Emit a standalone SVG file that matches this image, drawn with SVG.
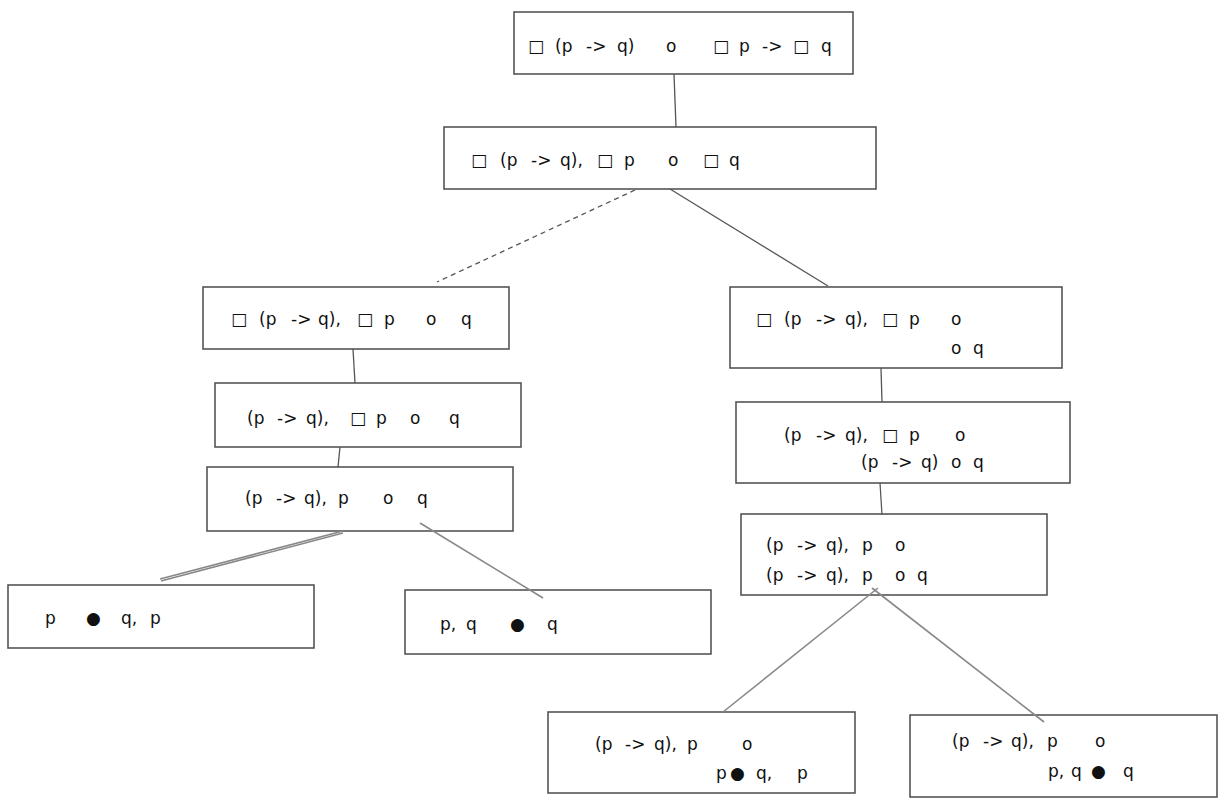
<svg xmlns="http://www.w3.org/2000/svg" width="1229" height="810" viewBox="0 0 1229 810">
<style>
.box{fill:#fff;stroke:#555;stroke-width:1.6}
.t{font-family:"DejaVu Sans",sans-serif;font-size:17px;fill:#111}
.c{stroke:#555;stroke-width:1.3;fill:none}
.g{stroke:#888;stroke-width:1.6;fill:none}
</style>
<rect width="1229" height="810" fill="#fff"/>
<g id="n1">
<rect class="box" x="514" y="12" width="339" height="62"/>
<text class="t" y="52"><tspan x="528">□</tspan><tspan x="555">(p</tspan><tspan x="586">-&gt;</tspan><tspan x="617">q)</tspan><tspan x="666">o</tspan><tspan x="713">□</tspan><tspan x="739">p</tspan><tspan x="762">-&gt;</tspan><tspan x="793">□</tspan><tspan x="821">q</tspan></text>
</g>
<g id="n2">
<rect class="box" x="444" y="127" width="432" height="62"/>
<text class="t" y="166"><tspan x="471">□</tspan><tspan x="500">(p</tspan><tspan x="531">-&gt;</tspan><tspan x="560">q),</tspan><tspan x="597">□</tspan><tspan x="624">p</tspan><tspan x="668">o</tspan><tspan x="703">□</tspan><tspan x="729">q</tspan></text>
</g>
<g id="n3">
<rect class="box" x="203" y="287" width="306" height="62"/>
<text class="t" y="325"><tspan x="231">□</tspan><tspan x="259">(p</tspan><tspan x="291">-&gt;</tspan><tspan x="318">q),</tspan><tspan x="357">□</tspan><tspan x="384">p</tspan><tspan x="426">o</tspan><tspan x="461">q</tspan></text>
</g>
<g id="n4">
<rect class="box" x="730" y="287" width="332" height="81"/>
<text class="t" y="325"><tspan x="756">□</tspan><tspan x="784">(p</tspan><tspan x="816">-&gt;</tspan><tspan x="845">q),</tspan><tspan x="882">□</tspan><tspan x="909">p</tspan><tspan x="951">o</tspan></text>
<text class="t" y="354"><tspan x="951">o</tspan><tspan x="973">q</tspan></text>
</g>
<g id="n5">
<rect class="box" x="215" y="383" width="306" height="64"/>
<text class="t" y="424"><tspan x="247">(p</tspan><tspan x="277">-&gt;</tspan><tspan x="306">q),</tspan><tspan x="350">□</tspan><tspan x="376">p</tspan><tspan x="410">o</tspan><tspan x="449">q</tspan></text>
</g>
<g id="n6">
<rect class="box" x="207" y="467" width="306" height="64"/>
<text class="t" y="504"><tspan x="245">(p</tspan><tspan x="276">-&gt;</tspan><tspan x="304">q),</tspan><tspan x="338">p</tspan><tspan x="383">o</tspan><tspan x="417">q</tspan></text>
</g>
<g id="n7">
<rect class="box" x="8" y="585" width="306" height="63"/>
<text class="t" y="624"><tspan x="45">p</tspan><tspan x="86">●</tspan><tspan x="121">q,</tspan><tspan x="150">p</tspan></text>
</g>
<g id="n8">
<rect class="box" x="405" y="590" width="306" height="64"/>
<text class="t" y="630"><tspan x="440">p,</tspan><tspan x="466">q</tspan><tspan x="510">●</tspan><tspan x="547">q</tspan></text>
</g>
<g id="n9">
<rect class="box" x="736" y="402" width="334" height="81"/>
<text class="t" y="441"><tspan x="784">(p</tspan><tspan x="816">-&gt;</tspan><tspan x="845">q),</tspan><tspan x="882">□</tspan><tspan x="909">p</tspan><tspan x="955">o</tspan></text>
<text class="t" y="468"><tspan x="861">(p</tspan><tspan x="892">-&gt;</tspan><tspan x="921">q)</tspan><tspan x="951">o</tspan><tspan x="973">q</tspan></text>
</g>
<g id="n10">
<rect class="box" x="741" y="514" width="306" height="81"/>
<text class="t" y="551"><tspan x="766">(p</tspan><tspan x="797">-&gt;</tspan><tspan x="826">q),</tspan><tspan x="862">p</tspan><tspan x="895">o</tspan></text>
<text class="t" y="581"><tspan x="766">(p</tspan><tspan x="797">-&gt;</tspan><tspan x="826">q),</tspan><tspan x="862">p</tspan><tspan x="895">o</tspan><tspan x="917">q</tspan></text>
</g>
<g id="n11">
<rect class="box" x="548" y="712" width="307" height="81"/>
<text class="t" y="750"><tspan x="595">(p</tspan><tspan x="625">-&gt;</tspan><tspan x="654">q),</tspan><tspan x="687">p</tspan><tspan x="742">o</tspan></text>
<text class="t" y="779"><tspan x="716">p</tspan><tspan x="730">●</tspan><tspan x="756">q,</tspan><tspan x="797">p</tspan></text>
</g>
<g id="n12">
<rect class="box" x="910" y="715" width="307" height="82"/>
<text class="t" y="747"><tspan x="952">(p</tspan><tspan x="983">-&gt;</tspan><tspan x="1011">q),</tspan><tspan x="1047">p</tspan><tspan x="1095">o</tspan></text>
<text class="t" y="777"><tspan x="1048">p,</tspan><tspan x="1071">q</tspan><tspan x="1091">●</tspan><tspan x="1123">q</tspan></text>
</g>
<g id="connectors">
<line class="c" x1="674" y1="74" x2="676" y2="127"/>
<line class="c" x1="635" y1="190" x2="437" y2="282" stroke-dasharray="5,4"/>
<line class="c" x1="670" y1="189" x2="828" y2="286"/>
<line class="c" x1="353" y1="349" x2="355" y2="383"/>
<line class="c" x1="340" y1="447" x2="338" y2="467"/>
<line class="c" x1="881" y1="368" x2="882" y2="402"/>
<line class="c" x1="880" y1="483" x2="882" y2="515"/>
<line class="g" x1="343" y1="531" x2="160" y2="579"/>
<line class="g" x1="343" y1="533" x2="161" y2="581" stroke-width="0.8"/>
<line class="g" x1="420" y1="523" x2="543" y2="598"/>
<line class="g" x1="878" y1="588" x2="723" y2="712"/>
<line class="g" x1="872" y1="588" x2="1044" y2="722"/>
</g>
</svg>
